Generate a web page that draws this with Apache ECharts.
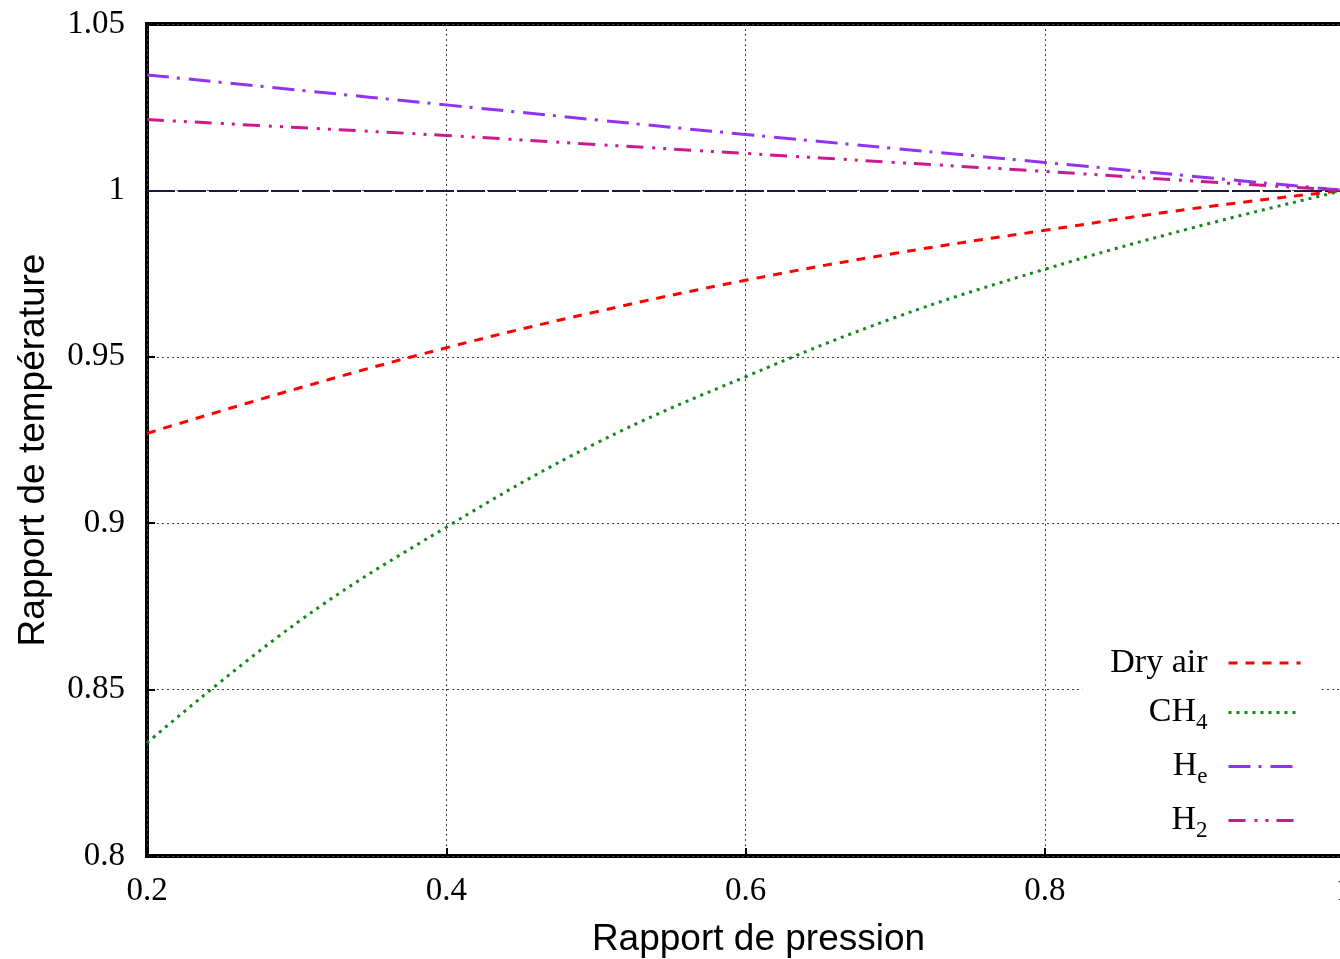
<!DOCTYPE html>
<html>
<head>
<meta charset="utf-8">
<script src="https://cdn.jsdelivr.net/npm/echarts@6/dist/echarts.min.js"></script>
<style>
  html, body { margin: 0; padding: 0; background: #fff; }
  #chart { width: 1340px; height: 959px; }
</style>
</head>
<body>
<div id="chart"></div>
<script>
// ---- data ----
const pressure = [0.2, 0.3, 0.4, 0.5, 0.6, 0.7, 0.8, 0.9, 1.0];
const dryAir = [0.927, 0.9404, 0.9527, 0.9635, 0.973, 0.9811, 0.988, 0.9946, 1.0];
const ch4 = [0.834, 0.870, 0.8988, 0.924, 0.944, 0.9618, 0.9763, 0.9889, 1.0];
const he = [1.0347, 1.0302, 1.0257, 1.0212, 1.0168, 1.0126, 1.0084, 1.0042, 1.0];
const h2 = [1.0213, 1.0189, 1.0165, 1.0138, 1.0111, 1.0084, 1.0057, 1.0028, 1.0];
const seriesNames = ['Dry air', 'CH4', 'He', 'H2'];
const legendLabels = {
  'Dry air': '{m|Dry air}',
  'CH4': '{m|CH}{s|4}',
  'He': '{m|H}{s|e}',
  'H2': '{m|H}{s|2}'
};
const refLine = 1.0;

const serif = '"Liberation Serif", "DejaVu Serif", serif';
const sans = '"Liberation Sans", Arial, sans-serif';

function pairs(ys) { return pressure.map((x, i) => [x, ys[i]]); }

function mkSeries(name, ys, color, dash, extra) {
  return Object.assign({
    name: name,
    type: 'line',
    data: pairs(ys),
    showSymbol: false,
    symbol: 'none',
    smooth: 0.4,
    lineStyle: { color: color, width: 3, type: dash, cap: 'butt' },
    itemStyle: { color: color },
    z: 3
  }, extra || {});
}

const chart = echarts.init(document.getElementById('chart'), null, { renderer: 'canvas' });
chart.setOption({
  animation: false,
  backgroundColor: '#fff',
  grid: {
    left: 147, top: 24, width: 1197, height: 832,
    outerBoundsMode: 'none',
    containLabel: false,
    show: true, borderColor: '#000', borderWidth: 4, backgroundColor: 'transparent'
  },
  xAxis: {
    type: 'value', min: 0.2, max: 1.0, interval: 0.2,
    name: 'Rapport de pression', nameLocation: 'middle', nameGap: 65,
    nameTextStyle: { fontFamily: sans, fontSize: 37, color: '#000', padding: [0, 0, 0, 26] },
    axisLine: { show: false },
    axisTick: { show: true, inside: true, length: 8, lineStyle: { color: '#000', width: 2 } },
    axisLabel: { fontFamily: serif, fontSize: 33, color: '#000', margin: 19, showMaxLabel: true },
    splitLine: { show: true, lineStyle: { color: '#444', width: 1, type: [2, 3] } }
  },
  yAxis: {
    type: 'value', min: 0.8, max: 1.05, interval: 0.05,
    name: 'Rapport de température', nameLocation: 'middle', nameGap: 95,
    nameTextStyle: { fontFamily: sans, fontSize: 37, color: '#000', padding: [0, 20, 0, 0] },
    axisLine: { show: false },
    axisTick: { show: true, inside: true, length: 8, lineStyle: { color: '#000', width: 2 } },
    axisLabel: { fontFamily: serif, fontSize: 33, color: '#000', margin: 22 },
    splitLine: { show: true, lineStyle: { color: '#444', width: 1, type: [2, 3] } }
  },
  legend: {
    data: seriesNames,
    orient: 'vertical',
    align: 'right',
    right: 18,
    top: 640,
    itemWidth: 72,
    itemHeight: 14,
    itemGap: 11,
    padding: [6, 20, 6, 28],
    backgroundColor: '#fff',
    selectedMode: false,
    lineStyle: { width: 3 },
    itemStyle: { opacity: 0, borderWidth: 0 },
    formatter: function (name) { return legendLabels[name]; },
    textStyle: {
      color: '#000',
      padding: [0, 16, 0, 0],
      rich: {
        m: { fontFamily: serif, fontSize: 34, lineHeight: 44, color: '#000' },
        s: { fontFamily: serif, fontSize: 23, lineHeight: 44, color: '#000', padding: [20, 0, 0, 0] }
      }
    }
  },
  series: [
    mkSeries('Dry air', dryAir, '#ff0000', [9, 8]),
    mkSeries('CH4', ch4, '#13891a', [3, 5]),
    mkSeries('He', he, '#9133f0', [22, 8, 3, 9], {
      markLine: {
        silent: true,
        symbol: ['none', 'none'],
        label: { show: false },
        lineStyle: { color: '#1a1a3a', width: 2, type: [28, 3] },
        data: [{ yAxis: refLine }],
        z: 2
      }
    }),
    mkSeries('H2', h2, '#cc1a8e', [17, 9, 3, 8, 3, 8])
  ]
});
</script>
</body>
</html>
